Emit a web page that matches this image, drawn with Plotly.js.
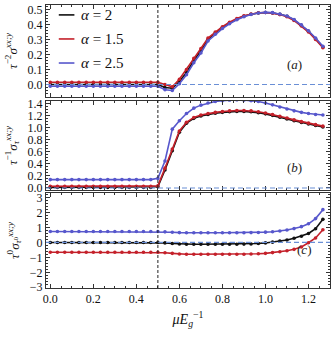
<!DOCTYPE html>
<html>
<head>
<meta charset="utf-8">
<script src="https://cdn.plot.ly/plotly-3.0.1.min.js"></script>
<style>
  html, body { margin: 0; padding: 0; background: #fff; }
  #chart { width: 332px; height: 338px; }
</style>
</head>
<body>
<div id="chart"></div>
<script>
// chemical potential grid, mu / E_g
const muE = [0, 0.033, 0.067, 0.1, 0.133, 0.167, 0.2, 0.233, 0.267, 0.3, 0.333, 0.367, 0.4, 0.433, 0.467, 0.5,
  0.533, 0.567, 0.6, 0.633, 0.667, 0.7, 0.733, 0.767, 0.8, 0.833, 0.867, 0.9, 0.933, 0.967, 1.0,
  1.033, 1.067, 1.1, 1.133, 1.167, 1.2, 1.233, 1.267];

// panel (a): tau^-2 sigma
const a_alpha2 = [0, 0, 0, 0, 0, 0, 0, 0, 0, 0, 0, 0, 0, 0, 0, 0,
  -0.02, -0.025, 0.02, 0.08, 0.16, 0.225, 0.30, 0.345, 0.38, 0.41, 0.435, 0.455, 0.468, 0.477, 0.48,
  0.477, 0.468, 0.455, 0.43, 0.395, 0.355, 0.305, 0.25];
const a_alpha15 = [0.015, 0.015, 0.015, 0.015, 0.015, 0.015, 0.015, 0.015, 0.015, 0.015, 0.015, 0.015, 0.015, 0.015, 0.015, 0.015,
  0.0, -0.015, 0.035, 0.10, 0.175, 0.24, 0.31, 0.35, 0.385, 0.415, 0.44, 0.458, 0.47, 0.478, 0.48,
  0.476, 0.466, 0.452, 0.427, 0.39, 0.35, 0.3, 0.245];
const a_alpha25 = [-0.012, -0.012, -0.012, -0.012, -0.012, -0.012, -0.012, -0.012, -0.012, -0.012, -0.012, -0.012, -0.012, -0.012, -0.012, -0.012,
  -0.035, -0.04, 0.005, 0.065, 0.145, 0.21, 0.29, 0.335, 0.373, 0.405, 0.432, 0.452, 0.467, 0.477, 0.481,
  0.479, 0.47, 0.457, 0.433, 0.398, 0.358, 0.31, 0.255];

// panel (b): tau^-1 sigma_tau
const b_alpha2 = [0.01, 0.01, 0.01, 0.01, 0.01, 0.01, 0.01, 0.01, 0.01, 0.01, 0.01, 0.01, 0.01, 0.01, 0.01, 0.02,
  0.3, 0.62, 0.93, 1.08, 1.16, 1.2, 1.225, 1.245, 1.26, 1.27, 1.275, 1.275, 1.27, 1.255, 1.235,
  1.21, 1.18, 1.15, 1.12, 1.09, 1.065, 1.04, 1.015];
const b_alpha15 = [0.03, 0.03, 0.03, 0.03, 0.03, 0.03, 0.03, 0.03, 0.03, 0.03, 0.03, 0.03, 0.03, 0.03, 0.03, 0.035,
  0.33, 0.65, 0.95, 1.095, 1.175, 1.215, 1.24, 1.26, 1.275, 1.285, 1.29, 1.29, 1.285, 1.27, 1.25,
  1.225, 1.195, 1.165, 1.135, 1.105, 1.08, 1.055, 1.03];
const b_alpha25 = [0.14, 0.14, 0.14, 0.14, 0.14, 0.14, 0.14, 0.14, 0.14, 0.14, 0.14, 0.14, 0.14, 0.14, 0.14, 0.16,
  0.45, 0.98, 1.12, 1.24, 1.33, 1.38, 1.415, 1.44, 1.455, 1.465, 1.47, 1.465, 1.455, 1.44, 1.415,
  1.385, 1.35, 1.315, 1.285, 1.26, 1.24, 1.225, 1.215];

// panel (c): tau^0 sigma_tau0
const c_alpha2 = [0, 0, 0, 0, 0, 0, 0, 0, 0, 0, 0, 0, 0, 0, 0, 0,
  -0.03, -0.07, -0.1, -0.12, -0.12, -0.12, -0.12, -0.12, -0.12, -0.12, -0.12, -0.11, -0.1, -0.07, -0.03,
  0.02, 0.09, 0.17, 0.28, 0.42, 0.6, 0.92, 1.55];
const c_alpha15 = [-0.66, -0.66, -0.66, -0.66, -0.66, -0.66, -0.66, -0.66, -0.66, -0.66, -0.66, -0.66, -0.66, -0.66, -0.66, -0.66,
  -0.69, -0.73, -0.77, -0.79, -0.79, -0.79, -0.79, -0.79, -0.79, -0.79, -0.79, -0.785, -0.775, -0.76, -0.73,
  -0.68, -0.62, -0.55, -0.46, -0.3, -0.02, 0.3, 0.85];
const c_alpha25 = [0.73, 0.73, 0.73, 0.73, 0.73, 0.73, 0.73, 0.73, 0.73, 0.73, 0.73, 0.73, 0.73, 0.73, 0.73, 0.73,
  0.71, 0.68, 0.66, 0.65, 0.65, 0.65, 0.65, 0.65, 0.65, 0.65, 0.65, 0.655, 0.66, 0.67, 0.69,
  0.72, 0.77, 0.84, 0.93, 1.06, 1.25, 1.6, 2.2];

const seriesNames = ['<i>α</i> = 2', '<i>α</i> = 1.5', '<i>α</i> = 2.5'];
const colors = ['#111111', '#c4202a', '#5757cc'];
const gapEdge = 0.5;   // vertical dashed marker

const serif = 'Liberation Serif, DejaVu Serif, serif';
const frame = '#333';

const panels = [
  { xa: 'x2', ya: 'y', data: [a_alpha2, a_alpha15, a_alpha25] },
  { xa: 'x3', ya: 'y2', data: [b_alpha2, b_alpha15, b_alpha25] },
  { xa: 'x', ya: 'y3', data: [c_alpha2, c_alpha15, c_alpha25] }
];

const traces = [];
panels.forEach(p => {
  p.data.forEach((ys, i) => {
    traces.push({
      x: muE, y: ys, xaxis: p.xa, yaxis: p.ya,
      mode: 'lines+markers', showlegend: false,
      line: { color: colors[i], width: 1.6 },
      marker: { color: colors[i], size: 3.6 },
      hoverinfo: 'skip'
    });
  });
});

const xCommon = {
  range: [-0.02, 1.3], dtick: 0.2, tickformat: '.1f',
  ticks: 'inside', ticklen: 4, tickcolor: frame,
  minor: { ticks: 'inside', ticklen: 2, dtick: 0.05, tickcolor: frame },
  showline: true, linecolor: frame, linewidth: 1, mirror: 'ticks',
  showgrid: false, zeroline: false,
  tickfont: { family: serif, size: 12, color: '#111' }
};
function yAxis(domain, anchor, range, dtick, minorDtick, fmt, title) {
  return {
    domain: domain, anchor: anchor, range: range, dtick: dtick, tickformat: fmt,
    ticks: 'inside', ticklen: 4, tickcolor: frame,
    minor: { ticks: 'inside', ticklen: 2, dtick: minorDtick, tickcolor: frame },
    showline: true, linecolor: frame, linewidth: 1, mirror: 'ticks',
    showgrid: false, zeroline: false,
    tickfont: { family: serif, size: 12, color: '#111' },
    title: { text: title, font: { family: serif, size: 13, color: '#111' }, standoff: 7 }
  };
}

const zeroLine = yr => ({
  type: 'line', xref: 'x domain', yref: yr, x0: 0, x1: 1, y0: 0, y1: 0,
  line: { color: '#6a8fd6', width: 1.2, dash: '5px,3px' }
});

// hand-made legend in panel (a): short line + label per series
const legendRows = [0.965, 0.88, 0.795];
const legendShapes = seriesNames.map((n, i) => ({
  type: 'line', xref: 'paper', yref: 'paper', x0: 0.045, x1: 0.1, y0: legendRows[i], y1: legendRows[i],
  line: { color: colors[i], width: 1.6 }
}));
const legendNotes = seriesNames.map((n, i) => ({
  text: n, xref: 'paper', yref: 'paper', x: 0.115, y: legendRows[i], xanchor: 'left', yanchor: 'middle',
  showarrow: false, font: { family: serif, size: 15, color: '#111' }
}));

const layout = {
  width: 332, height: 338,
  margin: { l: 46, r: 2, t: 5, b: 50 },
  paper_bgcolor: '#fff', plot_bgcolor: '#fff',
  showlegend: false,
  xaxis: Object.assign({}, xCommon, {
    anchor: 'y3',
    title: { text: '<i>μE</i><sub><i>g</i></sub><sup>−1</sup>', font: { family: serif, size: 14, color: '#111' }, standoff: 8 }
  }),
  xaxis2: Object.assign({}, xCommon, { anchor: 'y', matches: 'x', showticklabels: false }),
  xaxis3: Object.assign({}, xCommon, { anchor: 'y2', matches: 'x', showticklabels: false }),
  yaxis: yAxis([0.675, 1], 'x2', [-0.083, 0.53], 0.1, 0.02, '.1f', '<i>τ</i><sup>−2</sup><i>σ</i><sup><i>xx;y</i></sup>'),
  yaxis2: yAxis([0.346, 0.661], 'x3', [-0.035, 1.45], 0.2, 0.05, '.1f', '<i>τ</i><sup>−1</sup><i>σ</i><sub><i>τ</i></sub><sup><i>xx;y</i></sup>'),
  yaxis3: yAxis([0, 0.336], 'x', [-3.05, 3.32], 1, 0.2, 'd', '<i>τ</i><sup>0</sup><i>σ</i><sub><i>τ</i><sup>0</sup></sub><sup><i>xx;y</i></sup>'),
  shapes: [
    zeroLine('y'), zeroLine('y2'), zeroLine('y3'),
    { type: 'line', xref: 'x', yref: 'paper', x0: gapEdge, x1: gapEdge, y0: 0, y1: 1,
      line: { color: '#222', width: 1, dash: '3px,2px' } }
  ].concat(legendShapes),
  annotations: [
    { text: '(<i>a</i>)', xref: 'x domain', yref: 'y domain', x: 0.91, y: 0.25, showarrow: false,
      font: { family: serif, size: 13, color: '#222' } },
    { text: '(<i>b</i>)', xref: 'x domain', yref: 'y2 domain', x: 0.91, y: 0.15, showarrow: false,
      font: { family: serif, size: 13, color: '#222' } },
    { text: '(<i>c</i>)', xref: 'x domain', yref: 'y3 domain', x: 0.94, y: 0.4, showarrow: false,
      font: { family: serif, size: 13, color: '#222' } }
  ].concat(legendNotes)
};

Plotly.newPlot('chart', traces, layout, { displayModeBar: false, staticPlot: true });
</script>
</body>
</html>
